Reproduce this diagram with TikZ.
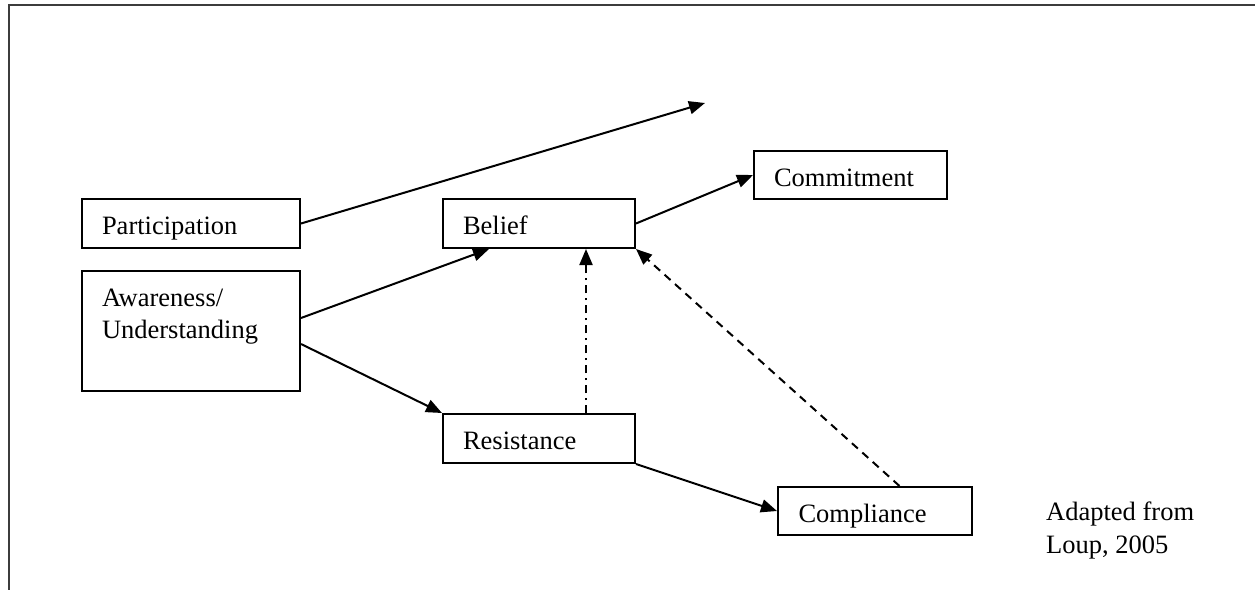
\documentclass[tikz,border=0pt]{standalone}
\usepackage{fontspec}
\setmainfont{Liberation Serif}
\usetikzlibrary{arrows.meta,calc}
\tikzset{
  box/.style={draw, line width=2pt, anchor=north west, inner xsep=20pt, inner ysep=0pt,
    align=left, text height=24pt, text depth=2pt, minimum height=49pt},
  conn/.style={line width=2pt, -{Triangle[length=16pt,width=13pt]}},
  dashline/.style={conn, dash pattern=on 8pt off 6pt},
  dashdotline/.style={conn, dash pattern=on 8pt off 5pt on 2pt off 5pt},
  frameline/.style={line width=2pt, draw={rgb,255:red,60;green,60;blue,60}}
}
\begin{document}
\begin{tikzpicture}[x=1pt,y=-1pt,font=\fontsize{26.5}{32.5}\selectfont]
\useasboundingbox (0,0) rectangle (1255,590);
% frame (top and left edges only)
\coordinate (ftl) at (9,5);
\coordinate (ftr) at (1255,5);
\coordinate (fbl) at (9,590);
\draw[frameline] (ftr) -- (ftl) -- (fbl);

% boxes
\node[box, text width=178pt] (part) at (81,198) {Participation};
\node[box, text width=178pt, text height=35pt, text depth=85pt] (aware) at (81,270)
  {\parbox[t]{178pt}{Awareness/\\Understanding}};
\node[box, text width=152pt] (belief) at (442,198) {Belief};
\node[box, text width=153pt, minimum height=48pt] (commit) at (753,150) {Commitment};
\node[box, text width=152pt] (resist) at (442,413) {Resistance};
\node[box, text width=153pt, inner xsep=20.5pt, minimum height=48pt] (comply) at (777,486) {Compliance};

\node[anchor=north west, inner sep=0pt, align=left] (source) at (1046,502) {Adapted from\\Loup, 2005};

% connectors
\coordinate (pend) at (705,103);
\draw[conn] (part.east) -- (pend);
\draw[conn] ($(aware.east)+(0,-13)$) -- ($(belief.south)+(-50,0)$);
\draw[conn] ($(aware.east)+(0,13)$) -- (resist.north west);
\draw[conn] (belief.east) -- (commit.west);
\draw[dashdotline] ($(resist.north)+(47,0)$) -- ($(belief.south)+(47,0)$);
\draw[dashline] ($(comply.north)+(24.5,0)$) -- (belief.south east);
\draw[conn] (resist.south east) -- (comply.west);
\end{tikzpicture}
\end{document}
